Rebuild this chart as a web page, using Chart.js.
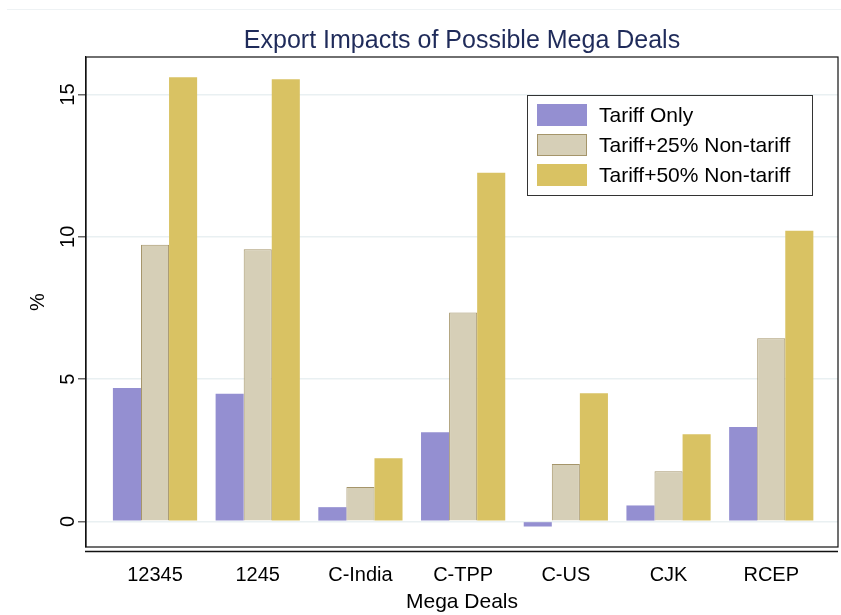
<!DOCTYPE html>
<html>
<head>
<meta charset="utf-8">
<script src="https://cdn.jsdelivr.net/npm/chart.js@4.4.0/dist/chart.umd.min.js"></script>
<style>
  html, body { margin: 0; padding: 0; background: #fff; }
  #wrap { width: 841px; height: 615px; position: relative; }
</style>
</head>
<body>
<div id="wrap"><canvas id="chart"></canvas></div>
<script>
// data
const categories = ["12345", "1245", "C-India", "C-TPP", "C-US", "CJK", "RCEP"];
const tariffOnly = [4.69, 4.49, 0.50, 3.13, -0.18, 0.56, 3.32];
const tariff25 = [9.72, 9.56, 1.21, 7.34, 2.02, 1.76, 6.44];
const tariff50 = [15.61, 15.54, 2.22, 12.25, 4.50, 3.06, 10.21];
const yTicks = [0, 5, 10, 15];
const seriesNames = ["Tariff Only", "Tariff+25% Non-tariff", "Tariff+50% Non-tariff"];

const FONT = "'Liberation Sans', Arial, sans-serif";

const toPoints = (vals) => vals.map((v, i) => ({ x: i, y: v }));

// title, frame, rotated y labels and legend box
const decor = {
  id: "decor",
  afterDraw(chart) {
    const { ctx, chartArea: a, scales } = chart;
    ctx.save();

    // faint rule at the very top
    ctx.strokeStyle = "#eef2f4";
    ctx.lineWidth = 1;
    ctx.beginPath();
    ctx.moveTo(7, 9.5);
    ctx.lineTo(841, 9.5);
    ctx.stroke();

    // title
    ctx.fillStyle = "#1f2b5a";
    ctx.font = "25px " + FONT;
    ctx.textAlign = "center";
    ctx.textBaseline = "middle";
    ctx.fillText("Export Impacts of Possible Mega Deals", (a.left + a.right) / 2, 41);

    // plot region frame
    ctx.strokeStyle = "#111";
    ctx.lineWidth = 1.2;
    ctx.strokeRect(a.left, a.top, a.right - a.left, a.bottom - a.top);

    // x axis line under the frame
    ctx.lineWidth = 1.6;
    ctx.beginPath();
    ctx.moveTo(a.left - 1, a.bottom + 4.5);
    ctx.lineTo(a.right, a.bottom + 4.5);
    ctx.stroke();

    // y tick labels, rotated
    ctx.fillStyle = "#000";
    ctx.font = "20px " + FONT;
    yTicks.forEach((t) => {
      const y = scales.y.getPixelForValue(t);
      ctx.save();
      ctx.translate(68, y);
      ctx.rotate(-Math.PI / 2);
      ctx.textAlign = "center";
      ctx.textBaseline = "middle";
      ctx.fillText(String(t), 0, 0);
      ctx.restore();
    });

    // legend
    const lx = 527, ly = 95, lw = 285, lh = 100;
    ctx.fillStyle = "#fff";
    ctx.fillRect(lx, ly, lw, lh);
    ctx.strokeStyle = "#333";
    ctx.lineWidth = 1;
    ctx.strokeRect(lx + 0.5, ly + 0.5, lw, lh);
    chart.data.datasets.forEach((ds, i) => {
      const sy = ly + 9 + i * 30;
      ctx.fillStyle = ds.backgroundColor;
      ctx.fillRect(537, sy, 50, 22);
      if (ds.borderWidth) {
        ctx.strokeStyle = ds.borderColor;
        ctx.lineWidth = 1;
        ctx.strokeRect(537.5, sy + 0.5, 49, 21);
      }
      ctx.fillStyle = "#000";
      ctx.font = "21px " + FONT;
      ctx.textAlign = "left";
      ctx.textBaseline = "middle";
      ctx.fillText(ds.label, 599, sy + 12);
    });

    ctx.restore();
  }
};

new Chart(document.getElementById("chart"), {
  type: "bar",
  data: {
    datasets: [
      {
        label: seriesNames[0],
        data: toPoints(tariffOnly),
        backgroundColor: "#948fd1",
        borderWidth: 0
      },
      {
        label: seriesNames[1],
        data: toPoints(tariff25),
        backgroundColor: "#d6cfb7",
        borderColor: "#a5956a",
        borderWidth: 1
      },
      {
        label: seriesNames[2],
        data: toPoints(tariff50),
        backgroundColor: "#d9c263",
        borderWidth: 0
      }
    ]
  },
  options: {
    responsive: true,
    maintainAspectRatio: false,
    animation: false,
    categoryPercentage: 0.82,
    barPercentage: 1.0,
    layout: { padding: { left: 0, right: 3, top: 57, bottom: 0 } },
    plugins: {
      legend: { display: false },
      title: { display: false },
      tooltip: { enabled: false }
    },
    scales: {
      x: {
        type: "linear",
        offset: false,
        min: -0.672,
        max: 6.65,
        afterFit: (s) => { s.height = 68; },
        afterBuildTicks: (s) => { s.ticks = categories.map((_, i) => ({ value: i })); },
        grid: { display: false, drawTicks: false, offset: false },
        border: { display: false },
        ticks: {
          color: "#000",
          padding: 16,
          font: { family: FONT, size: 20 },
          callback: (v) => categories[v]
        },
        title: {
          display: true,
          text: "Mega Deals",
          color: "#000",
          font: { family: FONT, size: 21 },
          padding: { top: 0, bottom: 0 }
        }
      },
      y: {
        min: -0.9,
        max: 16.32,
        afterFit: (s) => { s.width = 86; },
        afterBuildTicks: (s) => { s.ticks = yTicks.map((v) => ({ value: v })); },
        grid: {
          color: "#e9f0f2",
          lineWidth: 1.6,
          tickColor: "#444",
          tickLength: 8,
          tickWidth: 1.2
        },
        border: { display: true, color: "#111", width: 1.2 },
        ticks: { display: false },
        title: {
          display: true,
          text: "%",
          color: "#000",
          font: { family: FONT, size: 20 },
          padding: { top: 26, bottom: 0 }
        }
      }
    }
  },
  plugins: [decor]
});
</script>
</body>
</html>
